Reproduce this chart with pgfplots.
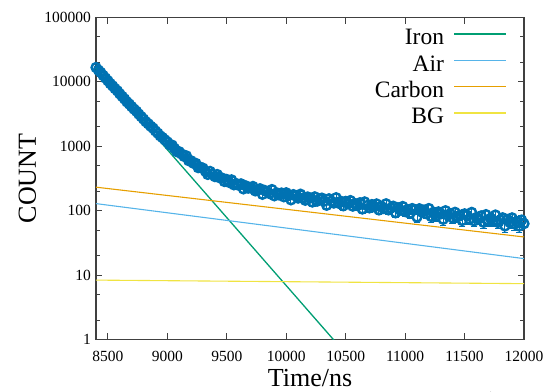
\documentclass[border=0pt]{standalone}
\usepackage{fontspec}
\setmainfont{Liberation Serif}
\usepackage{pgfplots}
\usepackage{pgfplotstable}
\pgfplotsset{compat=1.18}
\definecolor{dblue}{RGB}{0,114,178}
\definecolor{ironc}{RGB}{0,158,115}
\definecolor{airc}{RGB}{86,180,233}
\definecolor{carbc}{RGB}{230,159,0}
\definecolor{bgc}{RGB}{240,228,66}
\definecolor{axc}{RGB}{64,64,64}
\pgfplotstableread{
x y e
8400 16669 194
8420 15163 185
8440 13950 176
8460 12547 168
8480 11413 160
8500 10383 153
8520 9380 146
8540 8613 139
8560 7845 133
8580 7230 127
8600 6508 121
8620 5939 116
8640 5419 110
8660 4890 105
8680 4513 101
8700 4118 96
8720 3768 92
8740 3490 88
8760 3155 84
8780 2886 81
8800 2641 77
8820 2400 74
8840 2228 71
8860 2047 68
8880 1910 65
8900 1727 62
8920 1595 60
8940 1450 58
8960 1360 55
8980 1256 53
9000 1170 51
9020 1053 49
9040 1041 48
9060 926 46
9080 823 44
9100 823 43
9120 758 41
9140 697 40
9160 710 39
9180 597 37
9200 595 36
9220 544.6 35
9240 542.6 34
9260 465.2 33
9280 471.9 32
9300 457.2 31.5
9320 410.2 31
9340 365.4 30
9360 407.1 29.5
9380 368.2 29
9400 338.5 28
9420 364.6 27.6
9440 324.6 27
9460 321.5 26.6
9480 283.9 26
9500 305.6 25.6
9520 274.9 25
9540 301.5 24.9
9560 252.3 24.5
9580 264.0 24.1
9600 248.4 23.8
9620 261.3 23.5
9640 218.1 23.2
9660 243.3 23
9680 224.1 22.7
9700 226.2 22.4
9720 238.1 22.2
9740 203.0 22
9760 209.0 21.8
9780 219.4 21.6
9800 179.7 21.3
9820 206.3 21.2
9840 197.4 21
9860 184.6 20.8
9880 213.2 20.7
9900 170.3 20.5
9920 189.5 20.4
9940 176.1 20.2
9960 188.4 20.1
9980 164.5 19.9
10000 189.9 19.8
10020 171.9 19.7
10040 147.5 19.5
10060 178.0 19.4
10080 169.4 19.3
10100 157.0 19.2
10120 180.6 19.1
10140 157.2 19
10160 145.2 18.8
10180 163.5 18.7
10200 156.7 18.6
10220 136.4 18.5
10240 164.4 18.4
10260 140.7 18.3
10280 152.6 18.2
10300 157.0 18.1
10320 140.9 18
10340 121.5 17.9
10360 153.4 17.8
10380 141.2 17.7
10400 131.4 17.6
10420 159.3 17.6
10440 131.0 17.5
10460 140.2 17.4
10480 119.2 17.3
10500 139.7 17.2
10520 129.3 17.1
10540 143.9 17
10560 117.7 17
10580 128.9 16.9
10600 119.8 16.8
10620 133.1 16.7
10640 106.3 16.6
10660 137.1 16.5
10680 120.5 16.5
10700 110.6 16.4
10720 124.6 16.3
10740 114.8 16.2
10760 127.6 16.1
10780 102.9 16.1
10800 116.8 16
10820 108.3 15.9
10840 128.3 15.8
10860 103.0 15.8
10880 110.3 15.7
10900 117.7 15.6
10920 92.8 15.5
10940 111.4 15.5
10960 102.1 15.4
10980 116.5 15.3
11000 97.1 15.2
11020 104.2 15.2
11040 91.2 15.1
11060 108.3 15
11080 103.4 15
11100 79.7 14.9
11120 107.4 14.8
11140 95.6 14.7
11160 102.4 14.7
11180 89.8 14.6
11200 108.3 14.5
11220 81.3 14.5
11240 95.0 14.4
11260 83.6 14.3
11280 96.1 14.3
11300 89.5 14.2
11320 73.6 14.1
11340 100.1 14.1
11360 85.1 14
11380 89.9 13.9
11400 77.1 13.9
11420 94.7 13.8
11440 80.1 13.7
11460 84.8 13.7
11480 70.5 13.6
11500 89.6 13.5
11520 85.2 13.5
11540 73.7 13.4
11560 94.4 13.4
11580 69.6 13.3
11600 78.7 13.2
11620 74.5 13.2
11640 83.4 13.1
11660 66.1 13.1
11680 87.1 13
11700 69.1 12.9
11720 76.2 12.9
11740 69.6 12.8
11760 85.9 12.8
11780 65.8 12.7
11800 71.8 12.6
11820 77.8 12.6
11840 58.0 12.5
11860 73.2 12.5
11880 65.9 12.4
11900 77.6 12.3
11920 62.2 12.3
11940 68.1 12.2
11960 57.8 12.2
11980 71.8 12.1
12000 63.1 12.1
}\datatable
\begin{document}
\begin{tikzpicture}
\useasboundingbox (-96bp,-52.3bp) rectangle (459bp,339.7bp);
\begin{axis}[
  scale only axis, width=428bp, height=322.4bp,
  at={(0,0)}, anchor=south west,
  ymode=log, xmin=8400, xmax=12000, ymin=1, ymax=100000,
  xtick={8500,9000,9500,10000,10500,11000,11500,12000},
  xticklabels={8500,9000,9500,10000,10500,11000,11500,12000},
  ytick={1,10,100,1000,10000,100000},
  yticklabels={1,10,100,1000,10000,100000},
  minor ytick={2,5,20,50,200,500,2000,5000,20000,50000},
  tick align=inside,
  major tick length=6.5bp, minor tick length=4.5bp,
  axis line style={draw=axc, line width=1.2bp},
  every tick/.style={draw=axc, line width=1bp},
  tick label style={font=\fontsize{15.5bp}{18bp}\selectfont, text=black},
  xticklabel style={anchor=base, yshift=-22bp},
  yticklabel style={xshift=-1.5bp},
  xlabel={Time/ns},
  ylabel={COUNT},
  xlabel style={font=\fontsize{26bp}{30bp}\selectfont, at={(axis description cs:0.5,-0.1460)}, anchor=base},
  ylabel style={font=\fontsize{26bp}{30bp}\selectfont, at={(axis description cs:-0.1402,0.5)}, anchor=base, rotate=0},
  clip mode=individual,
  legend style={draw=none, fill=none, at={(axis description cs:0.9603,0.970)}, anchor=north east,
    font=\fontsize{23.5bp}{26.3bp}\selectfont, inner sep=0pt, outer sep=0pt,
    row sep=0pt, column sep=9.7bp,
    nodes={inner sep=0pt, text height=18bp, text depth=8.3bp}},
  legend cell align=right,
  legend plot pos=right,
  legend image code/.code={\draw[#1] (0bp,6bp) -- (52bp,6bp);},
]
\addplot[ironc, line width=1.3bp] coordinates {(8400,16300) (10500,0.61)};
\addlegendentry{Iron}
\addplot[airc, line width=1.1bp] coordinates {(8400,129) (12000,18.1)};
\addlegendentry{Air}
\addplot[carbc, line width=1.1bp] coordinates {(8400,232) (12000,39.2)};
\addlegendentry{Carbon}
\addplot[bgc, line width=1.1bp] coordinates {(8400,8.4) (12000,7.4)};
\addlegendentry{BG}
\addplot[forget plot, only marks, mark=o, mark size=4.4bp, dblue, line width=2.5bp,
  error bars/.cd, y dir=both, y explicit,
  error bar style={line width=1bp, dblue},
  error mark options={rotate=90, mark size=3.2bp, line width=1bp, dblue}]
  table[x=x, y=y, y error=e] {\datatable};
\end{axis}
\end{tikzpicture}
\end{document}
